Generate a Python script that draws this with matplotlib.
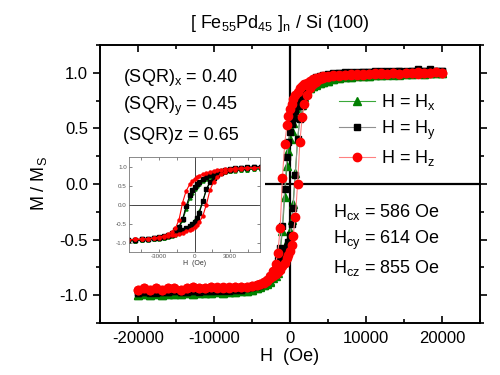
import matplotlib
matplotlib.use("Agg")
from matplotlib import pyplot as plt
from matplotlib.ticker import MultipleLocator

plt.rcParams['font.family'] = ['Liberation Sans', 'DejaVu Sans']
plt.rcParams['mathtext.fontset'] = 'custom'
plt.rcParams['mathtext.rm'] = 'Liberation Sans'
plt.rcParams['mathtext.it'] = 'Liberation Sans'
plt.rcParams['axes.unicode_minus'] = False

# applied field (Oe), descending sweep; the ascending sweep uses the reverse
field = [20000, 19200, 18400, 17600, 16800, 16000, 15200, 14400, 13600, 12800, 12000,
         11200, 10400, 9600, 8800, 8000, 7200, 6400,
         5600, 5000, 4400, 3900, 3400, 3000, 2600, 2200, 1900, 1600, 1300, 1000, 700,
         400, 200, 0, -200, -400, -700, -1000, -1300, -1600, -1900, -2200, -2600, -3000,
         -3400, -3900, -4400, -5000, -5600,
         -6400, -7200, -8000, -8800, -9600, -10400, -11200, -12000, -12800, -13600,
         -14400, -15200, -16000, -16800, -17600, -18400, -19200, -20000]
field_up = field[::-1]

# H = Hx (green)
mx_down = [1.00, 1.00, 1.00, 0.99, 1.00, 0.99, 0.99, 0.99, 0.98, 0.99, 0.98, 0.98, 0.97, 0.97, 0.97, 0.96, 0.96, 0.95,
           0.94, 0.93, 0.92, 0.91, 0.89, 0.88, 0.86, 0.83, 0.80, 0.77, 0.73, 0.68, 0.62, 0.55, 0.48, 0.40,
           0.30, 0.16, -0.12, -0.42, -0.62, -0.73, -0.79, -0.83, -0.87, -0.89, -0.91, -0.92, -0.94, -0.95, -0.96,
           -0.96, -0.97, -0.97, -0.98, -0.97, -0.98, -0.98, -0.98, -0.99, -0.98, -0.99, -0.99, -0.99, -1.00, -0.99, -1.00, -0.99, -1.00]
mx_up = [-1.00, -0.99, -1.00, -0.99, -1.00, -0.99, -0.99, -0.99, -0.98, -0.99, -0.98, -0.98, -0.98, -0.97, -0.98, -0.97, -0.97, -0.96,
         -0.96, -0.95, -0.94, -0.93, -0.91, -0.90, -0.88, -0.85, -0.83, -0.80, -0.76, -0.71, -0.65, -0.57, -0.50, -0.42,
         -0.32, -0.18, 0.10, 0.40, 0.60, 0.71, 0.78, 0.82, 0.86, 0.88, 0.90, 0.91, 0.92, 0.93, 0.94,
         0.95, 0.96, 0.96, 0.97, 0.97, 0.97, 0.98, 0.98, 0.98, 0.99, 0.98, 0.99, 0.99, 1.00, 0.99, 1.00, 1.00, 1.00]

# H = Hy (black)
my_down = [1.02, 1.02, 1.03, 1.02, 1.02, 1.02, 1.01, 1.02, 1.02, 1.01, 1.02, 1.01, 1.01, 1.01, 1.01, 1.00, 1.01, 1.00,
           1.00, 0.99, 0.98, 0.97, 0.96, 0.94, 0.92, 0.89, 0.86, 0.82, 0.77, 0.72, 0.66, 0.59, 0.54, 0.47,
           0.38, 0.24, -0.05, -0.38, -0.58, -0.68, -0.75, -0.79, -0.83, -0.86, -0.88, -0.90, -0.92, -0.93, -0.94,
           -0.95, -0.95, -0.96, -0.95, -0.96, -0.96, -0.96, -0.97, -0.96, -0.97, -0.97, -0.96, -0.97, -0.97, -0.98, -0.97, -0.97, -0.98]
my_up = [-0.98, -0.97, -0.98, -0.97, -0.97, -0.97, -0.96, -0.97, -0.97, -0.96, -0.96, -0.96, -0.96, -0.95, -0.96, -0.95, -0.95, -0.95,
         -0.94, -0.93, -0.92, -0.91, -0.89, -0.87, -0.85, -0.82, -0.79, -0.76, -0.72, -0.68, -0.63, -0.57, -0.52, -0.46,
         -0.36, -0.22, 0.08, 0.40, 0.58, 0.70, 0.78, 0.84, 0.89, 0.92, 0.94, 0.96, 0.97, 0.98, 0.99,
         1.00, 1.00, 1.01, 1.00, 1.01, 1.01, 1.02, 1.01, 1.02, 1.01, 1.02, 1.02, 1.02, 1.03, 1.02, 1.02, 1.02, 1.02]

# H = Hz (red)
mz_down = [1.00, 1.01, 1.00, 1.00, 0.99, 1.00, 1.00, 0.99, 1.00, 0.99, 0.99, 1.00, 0.99, 0.99, 0.98, 0.99, 0.98, 0.98,
           0.98, 0.97, 0.97, 0.96, 0.95, 0.94, 0.93, 0.91, 0.90, 0.88, 0.86, 0.83, 0.80, 0.76, 0.72, 0.67,
           0.61, 0.53, 0.36, 0.05, -0.40, -0.62, -0.72, -0.78, -0.83, -0.86, -0.88, -0.90, -0.91, -0.92, -0.93,
           -0.93, -0.93, -0.94, -0.93, -0.94, -0.93, -0.94, -0.94, -0.93, -0.94, -0.95, -0.94, -0.94, -0.95, -0.94, -0.95, -0.94, -0.95]
mz_up = [-0.95, -0.94, -0.95, -0.94, -0.95, -0.94, -0.94, -0.95, -0.94, -0.93, -0.94, -0.94, -0.93, -0.93, -0.94, -0.93, -0.93, -0.93,
         -0.93, -0.92, -0.91, -0.90, -0.89, -0.87, -0.85, -0.83, -0.81, -0.79, -0.77, -0.74, -0.71, -0.67, -0.64, -0.60,
         -0.55, -0.47, -0.30, 0.00, 0.38, 0.60, 0.72, 0.80, 0.86, 0.90, 0.92, 0.94, 0.95, 0.96, 0.97,
         0.97, 0.98, 0.98, 0.99, 0.98, 0.99, 0.99, 1.00, 0.99, 1.00, 0.99, 1.00, 1.00, 1.01, 1.00, 1.00, 1.01, 1.00]

series = [
    ("H = H$_x$", mx_down, mx_up, "^", "#008000", "#3aa83a", 5.5),
    ("H = H$_y$", my_down, my_up, "s", "black", "#909090", 5.0),
    ("H = H$_z$", mz_down, mz_up, "o", "red", "#ff8080", 6.0),
]

fig = plt.figure(figsize=(5, 3.75), dpi=100)
ax = fig.add_axes([0.2, 0.139, 0.76, 0.741])

handles = []
for label, down, up, mk, col, lcol, ms in series:
    for xs, ys in ((field, down), (field_up, up)):
        ln, = ax.plot(xs, ys, color=lcol, lw=0.8, marker=mk, ms=ms,
                      mfc=col, mec=col, zorder=3)
    handles.append(ln)

ax.axvline(0, color="black", lw=1.6, zorder=2)
ax.hlines(0, -3300, 25000, color="black", lw=1.6, zorder=2)

ax.set_xlim(-25000, 25000)
ax.set_ylim(-1.25, 1.25)
ax.xaxis.set_major_locator(MultipleLocator(10000))
ax.xaxis.set_minor_locator(MultipleLocator(5000))
ax.yaxis.set_major_locator(MultipleLocator(0.5))
ax.yaxis.set_minor_locator(MultipleLocator(0.25))
ax.yaxis.set_major_formatter(plt.FuncFormatter(lambda v, p: "%.1f" % v))
ax.tick_params(which="both", direction="in", top=True, right=True, labelsize=12, width=1.2)
ax.tick_params(axis="y", which="both", direction="out")
ax.tick_params(axis="x", pad=6)
ax.tick_params(which="major", length=5)
ax.tick_params(which="minor", length=3)
for s in ax.spines.values():
    s.set_linewidth(1.4)

ax.set_xlabel("H  (Oe)", fontsize=13, labelpad=1)
ax.set_ylabel("M / M$_S$", fontsize=13, labelpad=8)
fig.text(0.56, 0.937, "[ Fe$_{55}$Pd$_{45}$ ]$_n$ / Si (100)", fontsize=13, ha="center", va="center")

fig.text(123 / 500, 1 - 78 / 375, "(SQR)$_x$ = 0.40", fontsize=13, va="center")
fig.text(123 / 500, 1 - 106 / 375, "(SQR)$_y$ = 0.45", fontsize=13, va="center")
fig.text(123 / 500, 1 - 135 / 375, "(SQR)z = 0.65", fontsize=13, va="center")

fig.text(333 / 500, 1 - 212 / 375, "H$_{cx}$ = 586 Oe", fontsize=13, va="center")
fig.text(333 / 500, 1 - 240 / 375, "H$_{cy}$ = 614 Oe", fontsize=13, va="center")
fig.text(333 / 500, 1 - 268 / 375, "H$_{cz}$ = 855 Oe", fontsize=13, va="center")

ax.legend(handles, [h[0] for h in series], loc="upper left",
          bbox_to_anchor=(330 / 500, 1 - 83 / 375), bbox_transform=fig.transFigure,
          frameon=False, fontsize=13, handlelength=2.0, handletextpad=0.3,
          labelspacing=0.35, borderpad=0)

# inset: zoom on the low-field part
ins = fig.add_axes([129 / 500, 1 - 252 / 375, 131 / 500, 95 / 375])
for label, down, up, mk, col, lcol, ms in series:
    for xs, ys in ((field, down), (field_up, up)):
        ins.plot(xs, ys, color=col, lw=0.8, marker=mk, ms=2.2, mfc=col, mec=col)
ins.axvline(0, color="#444444", lw=0.7, zorder=1)
ins.axhline(0, color="#444444", lw=0.7, zorder=1)
ins.set_xlim(-5500, 5500)
ins.set_ylim(-1.25, 1.25)
ins.xaxis.set_major_locator(MultipleLocator(3000))
ins.xaxis.set_minor_locator(MultipleLocator(1500))
ins.yaxis.set_major_locator(MultipleLocator(0.5))
ins.yaxis.set_major_formatter(plt.FuncFormatter(lambda v, p: "%.1f" % v))
ins.tick_params(which="both", direction="in", top=True, right=True, labelsize=4.5,
                colors="#555555", length=2, width=0.5, pad=1.5)
for s in ins.spines.values():
    s.set_linewidth(0.6)
    s.set_color("#777777")
ins.set_xlabel("H  (Oe)", fontsize=5, labelpad=1, color="#333333")

fig.savefig("out.png", dpi=100)
